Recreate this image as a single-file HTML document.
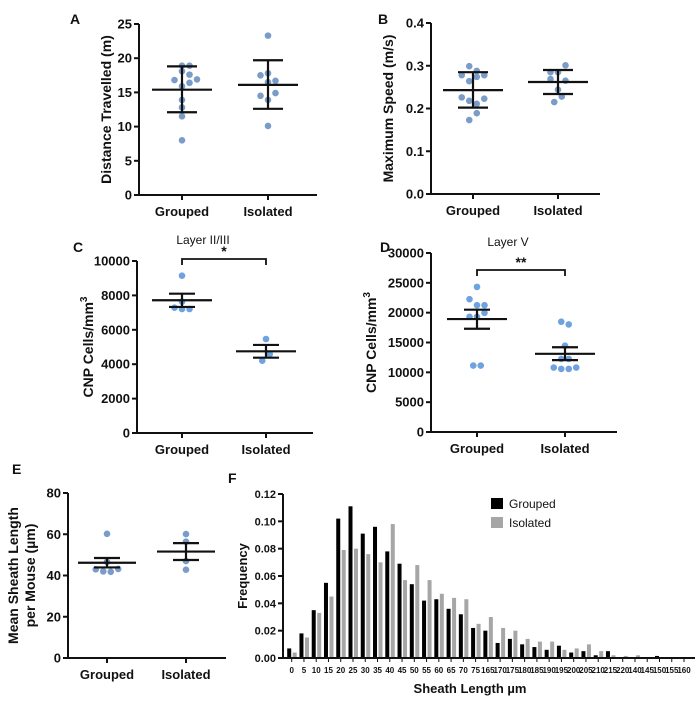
<!DOCTYPE html>
<html><head><meta charset="utf-8"><style>
body{margin:0;background:#fff;}
svg{display:block;font-family:"Liberation Sans",Arial,sans-serif;}
text{fill:#111;}
</style></head><body>
<svg id="fig" width="699" height="707" viewBox="0 0 699 707" xmlns="http://www.w3.org/2000/svg"></svg>
<script>
const groups = ["Grouped","Isolated"];
// Panel A
const aGrouped = [18.9,18.9,18.1,17.6,16.8,16.9,16.4,15.9,13.9,12.8,11.5,8.0];
const aGroupedSlot = [0,1,0,1,-1,2,1,0,0,0,0,0];
const aIsolated = [23.3,17.5,17.8,16.5,16.7,14.5,14.9,13.9,10.1];
const aIsolatedSlot = [0,-1,0,0,1,-1,1,0,0];
const aStats = [[15.4,18.8,12.1],[16.1,19.7,12.6]];
const aTicks = [0,5,10,15,20,25];
// Panel B
const bGrouped = [.299,.278,.288,.278,.264,.274,.226,.218,.223,.211,.189,.173];
const bGroupedSlot = [-0.5,-1.5,0.5,1.5,-0.5,0.5,-1.5,-0.5,1.5,0.5,0.5,-0.5];
const bIsolated = [.301,.285,.285,.269,.265,.244,.228,.215];
const bIsolatedSlot = [1,-1,0,-1,1,0,0.5,-0.5];
const bStats = [[.243,.285,.202],[.262,.290,.234]];
const bTicks = [0,0.1,0.2,0.3,0.4];
// Panel C
const cGrouped = [9147,7287,7209,7209,7636];
const cGroupedSlot = [0,-1,0,1,0];
const cIsolated = [5465,4593,4205];
const cIsolatedSlot = [0,0.5,-0.5];
const cStats = [[7720,8100,7330],[4750,5120,4380]];
const cTicks = [0,2000,4000,6000,8000,10000];
// Panel D
const dGrouped = [24320,22260,21260,21260,19980,19310,19310,11130,11130];
const dGroupedSlot = [0,-1,0,1,1,-1,0,-0.5,0.5];
const dIsolated = [18480,18030,14470,12250,12250,10800,10580,10580,10800];
const dIsolatedSlot = [-0.5,0.5,0,-0.5,0.5,-1.5,-0.5,0.5,1.5];
const dStats = [[18930,20500,17300],[13100,14200,12050]];
const dTicks = [0,5000,10000,15000,20000,25000,30000];
// Panel E
const eGrouped = [60.2,46.6,43.0,42.0,41.8,43.2];
const eGroupedSlot = [0,0,-1.5,-0.5,0.5,1.5];
const eIsolated = [60.1,56.4,47.0,42.8];
const eIsolatedSlot = [0,0,0,0];
const eStats = [[46.2,48.5,43.9],[51.6,55.7,47.5]];
const eTicks = [0,20,40,60,80];
// Panel F
const fCategories = ["0","5","10","15","20","25","30","35","40","45","50","55","60","65","70","75","165","170","175","180","185","190","195","200","205","210","215","220","140","145","150","155","160"];
const fGrouped = [.007,.018,.035,.055,.102,.111,.091,.096,.078,.069,.054,.042,.043,.036,.032,.022,.020,.011,.014,.010,.008,.006,.009,.004,.005,.002,.005,.0005,0,.0005,.0015,0,0];
const fIsolated = [.004,.015,.033,.045,.079,.080,.076,.070,.098,.057,.068,.057,.047,.044,.043,.025,.030,.022,.020,.014,.012,.012,.006,.007,.010,.005,.002,.0015,.002,.0005,.0005,.0005,.0005];
const fTicks = [0,0.02,0.04,0.06,0.08,0.10,0.12];

const NS="http://www.w3.org/2000/svg";
const svg=document.getElementById('fig');
function mk(tag,attrs,parent){const e=document.createElementNS(NS,tag);for(const k in attrs)e.setAttribute(k,attrs[k]);(parent||svg).appendChild(e);return e;}
function txt(s,x,y,size,anchor,parent,weight){const t=mk('text',{x:x,y:y,'font-size':size,'text-anchor':anchor||'middle','font-weight':weight||'bold'},parent);t.textContent=s;return t;}

function scatterPanel(o){
  const g=mk('g',{});
  
  
  const yv=v=>o.y0-(v-o.min)/(o.max-o.min)*(o.y0-o.y1);
  const xc=[o.xg,o.xi];
  const ya=mk('line',{x1:o.ax,y1:o.y1,x2:o.ax,y2:o.y0,stroke:'#111','stroke-width':2},g);
  
  
  const xa=mk('line',{x1:o.ax,y1:o.y0,x2:o.xend,y2:o.y0,stroke:'#111','stroke-width':2},g);
  
  
  o.ticks.forEach(t=>{const y=yv(t);mk('line',{x1:o.ax-5,y1:y,x2:o.ax,y2:y,stroke:'#111','stroke-width':2},g);
    const lb=txt(o.fmt(t),o.ax-7,y+4.5,13,'end',g);
    
    });
  groups.forEach((gn,i)=>{mk('line',{x1:xc[i],y1:o.y0,x2:xc[i],y2:o.y0+5,stroke:'#111','stroke-width':2},g);
    const lb=txt(gn,xc[i],o.y0+21,13,'middle',g);
    
    });
  const sets=[[o.g,o.gs],[o.i,o.is]];
  sets.forEach((s,i)=>{s[0].forEach((v,j)=>{const c=mk('circle',{cx:xc[i]+s[1][j]*7.5,cy:yv(v),r:3.3,fill:o.col},g);
    
    });});
  o.stats.forEach((st,i)=>{const x=xc[i];
    const m=mk('line',{x1:x-o.mw,y1:yv(st[0]),x2:x+o.mw,y2:yv(st[0]),stroke:'#111','stroke-width':2.2},g);
    
    
    const eb=mk('path',{d:`M${x},${yv(st[1])}V${yv(st[2])}M${x-o.cw},${yv(st[1])}H${x+o.cw}M${x-o.cw},${yv(st[2])}H${x+o.cw}`,stroke:'#111','stroke-width':2.2,fill:'none'},g);
    
    });
  const cx=o.ax-o.tOff, cy=(o.y0+o.y1)/2;
  o.title.forEach((line,k)=>{const t=txt(line,0,0,14,'middle',g);
    t.setAttribute('transform',`translate(${cx+k*17},${cy}) rotate(-90)`);
    
    
    if(o.sup){const sp=mk('tspan',{dy:-6,'font-size':10},t);sp.textContent='3';}});
  const pl=txt(o.letter,o.lx,o.ly,14,'start',g);
  
  
  if(o.sub){const st=txt(o.sub,o.subx,o.suby,12,'middle',g,'normal');
    
    }
  if(o.br){const b=mk('path',{d:`M${xc[0]},${o.br+6}V${o.br}H${xc[1]}V${o.br+6}`,stroke:'#111','stroke-width':1.8,fill:'none'},g);
    
    
    const s=txt(o.star,(xc[0]+xc[1])/2,o.br-3,14,'middle',g);
    
    }
}
const intf=t=>String(t), f1=t=>t.toFixed(1);
scatterPanel({name:'panel-a',ax:139,xend:317,y0:195,y1:24,min:0,max:25,xg:182,xi:268,ticks:aTicks,fmt:intf,g:aGrouped,gs:aGroupedSlot,i:aIsolated,is:aIsolatedSlot,stats:aStats,col:'#7b9cc8',mw:30,cw:15,title:['Distance Travelled (m)'],tOff:28,letter:'A',lx:70,ly:24});
scatterPanel({name:'panel-b',ax:431,xend:600,y0:194,y1:23,min:0,max:0.4,xg:473,xi:558,ticks:bTicks,fmt:f1,g:bGrouped,gs:bGroupedSlot,i:bIsolated,is:bIsolatedSlot,stats:bStats,col:'#7b9cc8',mw:30,cw:15,title:['Maximum Speed (m/s)'],tOff:38,letter:'B',lx:378,ly:24});
scatterPanel({name:'panel-c',ax:137,xend:313,y0:433,y1:261,min:0,max:10000,xg:182,xi:266,ticks:cTicks,fmt:intf,g:cGrouped,gs:cGroupedSlot,i:cIsolated,is:cIsolatedSlot,stats:cStats,col:'#6fa3e0',mw:30,cw:13,title:['CNP Cells/mm'],sup:true,tOff:44,letter:'C',lx:73,ly:252,sub:'Layer II/III',subx:203,suby:244,br:259,star:'*'});
scatterPanel({name:'panel-d',ax:431,xend:617,y0:432,y1:253,min:0,max:30000,xg:477,xi:565,ticks:dTicks,fmt:intf,g:dGrouped,gs:dGroupedSlot,i:dIsolated,is:dIsolatedSlot,stats:dStats,col:'#6fa3e0',mw:30,cw:13,title:['CNP Cells/mm'],sup:true,tOff:55,letter:'D',lx:380,ly:252,sub:'Layer V',subx:508,suby:246,br:270,star:'**'});
scatterPanel({name:'panel-e',ax:68,xend:226,y0:658,y1:493,min:0,max:80,xg:107,xi:186,ticks:eTicks,fmt:intf,g:eGrouped,gs:eGroupedSlot,i:eIsolated,is:eIsolatedSlot,stats:eStats,col:'#7b9cc8',mw:29,cw:13,title:['Mean Sheath Length','per Mouse (µm)'],tOff:50,letter:'E',lx:12,ly:474});

// Panel F
(function(){
  const g=mk('g',{});
  
  
  const ax=283,xend=695,y0=658,y1=494,max=0.12;
  const yv=v=>y0-v/max*(y0-y1);
  const step=12.26, x0=291.7;
  const xv=i=>x0+i*step;
  fCategories.forEach((c,i)=>{
    const b=mk('rect',{x:xv(i)-4.5,y:yv(fGrouped[i]),width:4,height:y0-yv(fGrouped[i]),fill:'#000'},g);
    
    
    const b2=mk('rect',{x:xv(i)+1,y:yv(fIsolated[i]),width:4,height:y0-yv(fIsolated[i]),fill:'#a6a6a6'},g);
    
    
    mk('line',{x1:xv(i),y1:y0,x2:xv(i),y2:y0+4,stroke:'#111','stroke-width':1},g);
    const t=txt(c,xv(i),y0+15,8,'middle',g);
    
    
  });
  const ya=mk('line',{x1:ax,y1:y1,x2:ax,y2:y0,stroke:'#111','stroke-width':2},g);
  
  
  const xa=mk('line',{x1:ax,y1:y0,x2:xend,y2:y0,stroke:'#111','stroke-width':2},g);
  
  
  fTicks.forEach(t=>{const y=yv(t);mk('line',{x1:ax-5,y1:y,x2:ax,y2:y,stroke:'#111','stroke-width':2},g);
    const lb=txt(t.toFixed(2),ax-7,y+4,11,'end',g);
    
    });
  const yt=txt('Frequency',0,0,13,'middle',g);
  yt.setAttribute('transform',`translate(247,${(y0+y1)/2}) rotate(-90)`);
  
  
  const xt=txt('Sheath Length µm',470,693,13,'middle',g);
  
  
  const pl=txt('F',228,483,14,'start',g);
  
  
  const l1=mk('rect',{x:491,y:498,width:12,height:11,fill:'#000'},g);
  
  
  const lt1=txt('Grouped',509,508,12,'start',g,'normal');
  
  
  const l2=mk('rect',{x:491,y:517,width:12,height:11,fill:'#a6a6a6'},g);
  
  
  const lt2=txt('Isolated',509,527,12,'start',g,'normal');
  
  
})();
</script>
</body></html>
